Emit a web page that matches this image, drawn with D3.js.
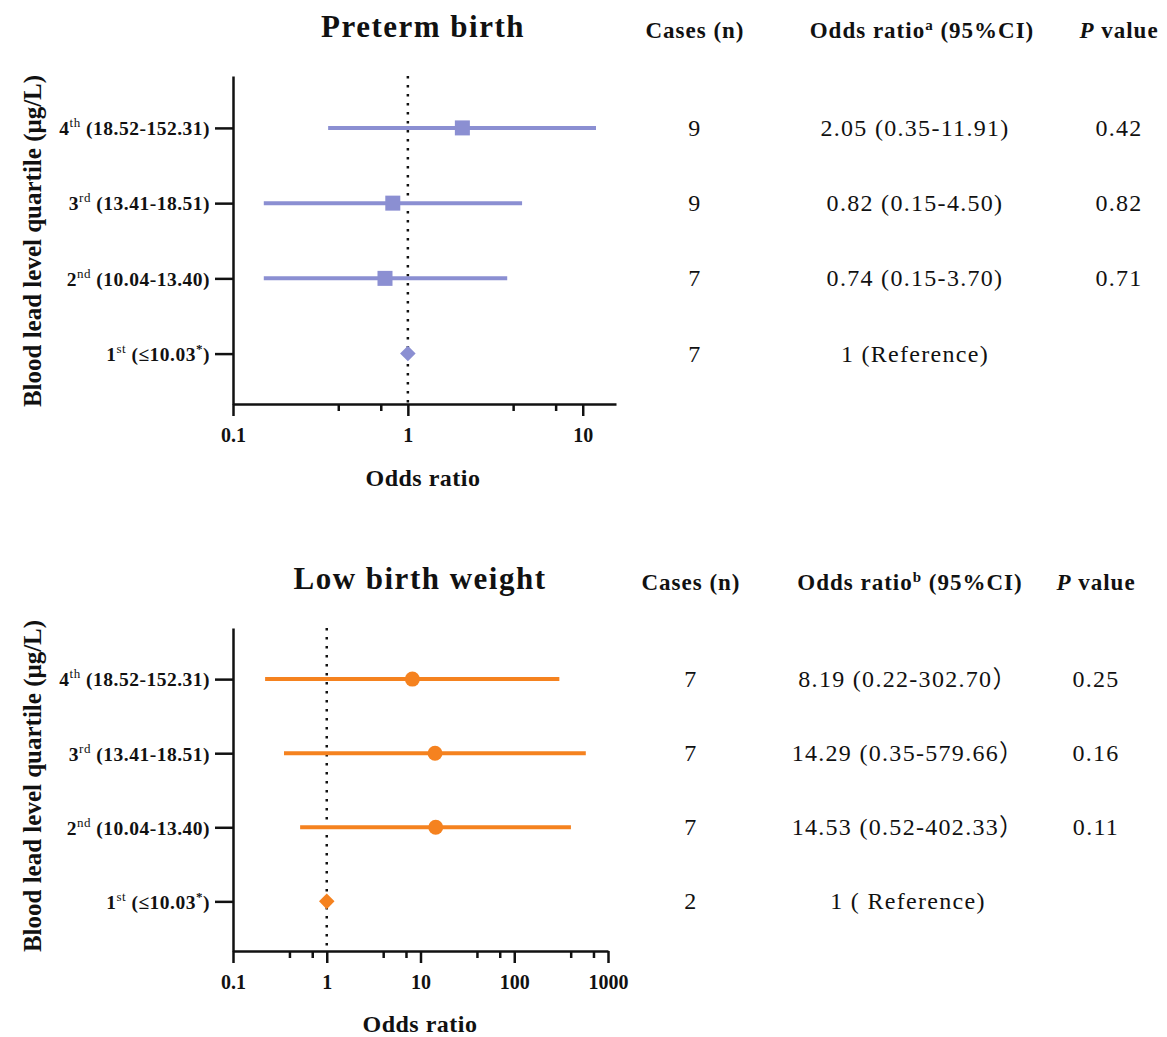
<!DOCTYPE html>
<html lang="en">
<head>
    <meta charset="UTF-8">
    <title>Blood lead level quartile and birth outcomes</title>
    <script src="https://d3js.org/d3.v7.min.js"></script>
    <style>
        body { margin: 0; background: #fff; }
        svg text { font-family: "Liberation Serif", "Times New Roman", "Noto Sans CJK SC", serif; fill: #111; }
        .axis path, .axis line { stroke: #111; stroke-width: 2.5px; }
        .axis text { font-size: 20px; font-weight: bold; }
        .ylab text { font-size: 19.5px; font-weight: bold; letter-spacing: 0.5px; }
        .head { font-size: 23px; font-weight: bold; letter-spacing: 1px; }
        .cell { font-size: 24px; letter-spacing: 1.3px; }
    </style>
</head>
<body>
<svg width="1167" height="1037"></svg>
<script>
    // quartile labels (index 0 = 1st quartile)
    const quartileNum = ["1", "2", "3", "4"];
    const quartileSuffix = ["st", "nd", "rd", "th"];
    const quartileRange = ["≤10.03", "10.04-13.40", "13.41-18.51", "18.52-152.31"];

    // preterm birth
    const ptbCases = [7, 7, 9, 9];
    const ptbOR = [1, 0.74, 0.82, 2.05];
    const ptbLow = [null, 0.15, 0.15, 0.35];
    const ptbHigh = [null, 3.70, 4.50, 11.91];
    const ptbP = ["", "0.71", "0.82", "0.42"];

    // low birth weight
    const lbwCases = [2, 7, 7, 7];
    const lbwOR = [1, 14.53, 14.29, 8.19];
    const lbwLow = [null, 0.52, 0.35, 0.22];
    const lbwHigh = [null, 402.33, 579.66, 302.70];
    const lbwP = ["", "0.11", "0.16", "0.25"];

    // x axis ticks
    const ptbTicks = [0.1, 1, 10];
    const ptbMinor = [0.4, 0.7, 4, 7];
    const lbwTicks = [0.1, 1, 10, 100, 1000];
    const lbwMinor = [0.4, 0.7, 4, 7, 40, 70, 400, 700];

    const svg = d3.select("svg");

    function drawPanel(p) {
        const g = svg.append("g");
        const x = d3.scaleLog().domain(p.xDomain).range([233, p.xRight]);
        const y = d3.scaleLinear().domain([0.33, 4.69]).range([p.yBottom, p.yTop]);
        const rows = d3.range(4);

        // title
        g.append("text")
            .attr("x", p.titleX).attr("y", p.headY)
            .attr("text-anchor", "middle")
            .style("font-size", "31px").style("font-weight", "bold").style("letter-spacing", "1.5px")
            .text(p.title);

        // x axis with minor ticks
        g.append("g").attr("class", "axis")
            .attr("transform", `translate(0,${p.yBottom})`)
            .call(d3.axisBottom(x).tickValues(p.minor).tickSize(7).tickFormat(""))
            .call(a => a.select(".domain").remove());
        g.append("g").attr("class", "axis")
            .attr("transform", `translate(0,${p.yBottom})`)
            .call(d3.axisBottom(x).tickValues(p.ticks).tickSize(12).tickSizeOuter(0).tickPadding(12)
                .tickFormat(d => d < 1 ? "0.1" : d3.format("d")(d)));

        // y axis
        const ya = g.append("g").attr("class", "axis ylab")
            .attr("transform", "translate(233,0)")
            .call(d3.axisLeft(y).tickValues([1, 2, 3, 4]).tickSize(18).tickSizeOuter(0).tickPadding(5).tickFormat(""));
        ya.selectAll(".tick text").each(function(d) {
            const i = d - 1;
            const t = d3.select(this).attr("dy", "0.35em");
            t.append("tspan").text(quartileNum[i]);
            t.append("tspan").attr("dy", -8).style("font-size", "13px").style("font-weight", "normal").text(quartileSuffix[i]);
            if (i === 0) {
                t.append("tspan").attr("dy", 8).text(" (" + quartileRange[i]);
                t.append("tspan").attr("dy", -8).style("font-size", "13px").text("*");
                t.append("tspan").attr("dy", 8).text(")");
            } else {
                t.append("tspan").attr("dy", 8).text(" (" + quartileRange[i] + ")");
            }
        });

        // y axis title
        g.append("text")
            .attr("transform", `translate(41,${p.yTitle}) rotate(-90)`)
            .attr("text-anchor", "middle")
            .style("font-size", "25px").style("font-weight", "bold")
            .text("Blood lead level quartile (μg/L)");

        // x axis title
        g.append("text")
            .attr("x", p.titleX).attr("y", p.xTitleY)
            .attr("text-anchor", "middle")
            .style("font-size", "24px").style("font-weight", "bold").style("letter-spacing", "0.5px")
            .text("Odds ratio");

        // reference line at OR = 1
        g.append("line")
            .attr("x1", x(1)).attr("x2", x(1))
            .attr("y1", p.yTop).attr("y2", p.yBottom)
            .attr("stroke", "#111").attr("stroke-width", 2.5)
            .attr("stroke-dasharray", "2.5,6.5");

        // CI bars
        g.selectAll(".ci").data(rows.filter(i => p.low[i] != null)).join("line")
            .attr("x1", i => x(p.low[i])).attr("x2", i => x(p.high[i]))
            .attr("y1", i => y(i + 1)).attr("y2", i => y(i + 1))
            .attr("stroke", p.color).attr("stroke-width", 4);

        // point estimates
        rows.forEach(i => {
            const cx = x(p.or[i]), cy = y(i + 1);
            if (p.low[i] == null) {
                g.append("rect")
                    .attr("x", -5.5).attr("y", -5.5).attr("width", 11).attr("height", 11)
                    .attr("transform", `translate(${cx},${cy}) rotate(45)`)
                    .attr("fill", p.color);
            } else if (p.shape === "square") {
                g.append("rect")
                    .attr("x", cx - 7.5).attr("y", cy - 7.5).attr("width", 15).attr("height", 15)
                    .attr("fill", p.color);
            } else {
                g.append("circle").attr("cx", cx).attr("cy", cy).attr("r", 7.5).attr("fill", p.color);
            }
        });

        // table headers
        g.append("text").attr("class", "head").attr("x", p.colCases).attr("y", p.headY + 1)
            .attr("text-anchor", "middle").text("Cases (n)");
        const h = g.append("text").attr("class", "head").attr("x", p.colHeadOR).attr("y", p.headY + 1)
            .attr("text-anchor", "middle");
        h.append("tspan").text("Odds ratio");
        h.append("tspan").attr("dy", -8).style("font-size", "15px").text(p.sup);
        h.append("tspan").attr("dy", 8).text(" (95%CI)");
        const pv = g.append("text").attr("class", "head").attr("x", p.colP).attr("y", p.headY + 1)
            .attr("text-anchor", "middle");
        pv.append("tspan").style("font-style", "italic").text("P");
        pv.append("tspan").text(" value");

        // table rows
        rows.forEach(i => {
            const ty = y(i + 1) + 8;
            g.append("text").attr("class", "cell").attr("x", p.colCases).attr("y", ty)
                .attr("text-anchor", "middle").text(p.cases[i]);
            const txt = p.low[i] == null ? p.refText
                : `${p.or[i].toFixed(2)} (${p.low[i].toFixed(2)}-${p.high[i].toFixed(2)}${p.close}`;
            g.append("text").attr("class", "cell").attr("x", p.colOR).attr("y", ty)
                .attr("text-anchor", "middle").text(txt);
            g.append("text").attr("class", "cell").attr("x", p.colP).attr("y", ty)
                .attr("text-anchor", "middle").text(p.pval[i]);
        });
    }

    drawPanel({
        title: "Preterm birth", sup: "a", color: "#8b8fd2", shape: "square",
        cases: ptbCases, or: ptbOR, low: ptbLow, high: ptbHigh, pval: ptbP,
        ticks: ptbTicks, minor: ptbMinor, xDomain: [0.1, 15.5], xRight: 616,
        yTop: 76, yBottom: 404, yTitle: 241, headY: 37, xTitleY: 486, titleX: 423,
        colCases: 695, colHeadOR: 922, colOR: 915, colP: 1119,
        refText: "1 (Reference)", close: ")"
    });

    drawPanel({
        title: "Low birth weight", sup: "b", color: "#f5821f", shape: "circle",
        cases: lbwCases, or: lbwOR, low: lbwLow, high: lbwHigh, pval: lbwP,
        ticks: lbwTicks, minor: lbwMinor, xDomain: [0.1, 1000], xRight: 608,
        yTop: 628, yBottom: 951, yTitle: 786, headY: 589, xTitleY: 1032, titleX: 420,
        colCases: 691, colHeadOR: 910, colOR: 908, colP: 1096,
        refText: "1 ( Reference)", close: "）"
    });
</script>
</body>
</html>
